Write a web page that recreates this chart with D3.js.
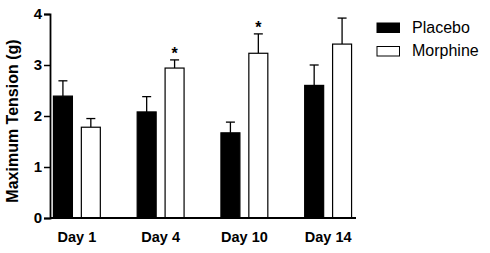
<!DOCTYPE html>
<html>
<head>
<meta charset="utf-8">
<script src="https://cdn.jsdelivr.net/npm/d3@7"></script>
<style>
  body { margin: 0; background: #fff; }
  text { font-family: "Liberation Sans", Arial, sans-serif; }
</style>
</head>
<body>
<div id="chart"></div>
<script>
const days = ['Day 1', 'Day 4', 'Day 10', 'Day 14'];
const series = ['Placebo', 'Morphine'];
const placebo = [2.39, 2.08, 1.67, 2.60];
const placeboErr = [0.30, 0.30, 0.21, 0.40];
const morphine = [1.78, 2.94, 3.23, 3.41];
const morphineErr = [0.17, 0.16, 0.38, 0.51];
const significant = [false, true, true, false];
const yTicks = [0, 1, 2, 3, 4];

const width = 490;
const height = 253;

const svg = d3.select('#chart')
  .append('svg')
  .attr('width', width)
  .attr('height', height);

// scales
const x0 = d3.scaleBand()
  .domain(days)
  .range([35, 370])
  .paddingInner(0.44)
  .paddingOuter(0.22);

const x1 = d3.scaleBand()
  .domain(series)
  .range([0, x0.bandwidth()])
  .paddingInner(0.32);

const y = d3.scaleLinear()
  .domain([0, 4])
  .range([218, 14]);

const rows = days.map((d, i) => ({
  day: d,
  values: [
    { key: 'Placebo', v: placebo[i], e: placeboErr[i] },
    { key: 'Morphine', v: morphine[i], e: morphineErr[i] },
  ],
  star: significant[i],
}));

const group = svg.selectAll('.grp')
  .data(rows)
  .enter()
  .append('g')
  .attr('class', 'grp')
  .attr('transform', (d) => `translate(${x0(d.day)},0)`);

// error bars (drawn behind the bars)
const err = group.selectAll('.err')
  .data((d) => d.values)
  .enter()
  .append('g')
  .attr('class', 'err')
  .attr('stroke', '#000')
  .attr('stroke-width', 1.3);

err.append('line')
  .attr('x1', (d) => x1(d.key) + x1.bandwidth() / 2)
  .attr('x2', (d) => x1(d.key) + x1.bandwidth() / 2)
  .attr('y1', (d) => y(d.v))
  .attr('y2', (d) => y(d.v + d.e));

err.append('line')
  .attr('x1', (d) => x1(d.key) + x1.bandwidth() / 2 - 4.5)
  .attr('x2', (d) => x1(d.key) + x1.bandwidth() / 2 + 4.5)
  .attr('y1', (d) => y(d.v + d.e))
  .attr('y2', (d) => y(d.v + d.e));

group.selectAll('.bar')
  .data((d) => d.values)
  .enter()
  .append('rect')
  .attr('class', 'bar')
  .attr('x', (d) => x1(d.key))
  .attr('y', (d) => y(d.v))
  .attr('width', x1.bandwidth())
  .attr('height', (d) => y(0) - y(d.v))
  .attr('fill', (d) => (d.key === 'Placebo' ? '#000' : '#fff'))
  .attr('stroke', '#000')
  .attr('stroke-width', 1.2);

// significance stars
group.filter((d) => d.star)
  .append('text')
  .attr('x', x1('Morphine') + x1.bandwidth() / 2)
  .attr('y', (d) => y(d.values[1].v + d.values[1].e) - 1)
  .attr('text-anchor', 'middle')
  .attr('font-size', 16)
  .attr('font-weight', 'bold')
  .text('*');

// Y axis
const yAxis = d3.axisLeft(y)
  .tickValues(yTicks)
  .tickFormat(d3.format('d'))
  .tickSize(6)
  .tickPadding(2);
const gy = svg.append('g')
  .attr('transform', 'translate(50,0)')
  .call(yAxis);
gy.select('.domain').attr('stroke-width', 1.8);
gy.selectAll('.tick line').attr('stroke-width', 1.5);
gy.selectAll('.tick text')
  .attr('font-size', 15)
  .attr('font-weight', 'bold')
  .attr('font-family', '"Liberation Sans", Arial, sans-serif')
  .attr('fill', '#000');

// X axis
const xAxis = d3.axisBottom(x0).tickSize(0).tickPadding(14).tickSizeOuter(0);
const gx = svg.append('g')
  .attr('transform', `translate(0,${y(0)})`)
  .call(xAxis);
gx.select('.domain')
  .attr('d', 'M50,0H356')
  .attr('stroke-width', 1.8);
gx.selectAll('.tick text')
  .attr('font-size', 14.5)
  .attr('font-weight', 'bold')
  .attr('font-family', '"Liberation Sans", Arial, sans-serif')
  .attr('fill', '#000');

// Y label
svg.append('text')
  .attr('transform', 'translate(18,121) rotate(-90)')
  .attr('text-anchor', 'middle')
  .attr('font-size', 16)
  .attr('font-weight', 'bold')
  .text('Maximum Tension (g)');

// legend
const legend = svg.append('g')
  .attr('transform', 'translate(377,23)');
const li = legend.selectAll('.li')
  .data(series)
  .enter()
  .append('g')
  .attr('transform', (d, i) => `translate(0,${i * 23.5})`);
li.append('rect')
  .attr('width', 22.5)
  .attr('height', 9.5)
  .attr('fill', (d) => (d === 'Placebo' ? '#000' : '#fff'))
  .attr('stroke', '#000')
  .attr('stroke-width', 1);
li.append('text')
  .attr('x', 35)
  .attr('y', 9.5)
  .attr('font-size', 16)
  .text((d) => d);
</script>
</body>
</html>
